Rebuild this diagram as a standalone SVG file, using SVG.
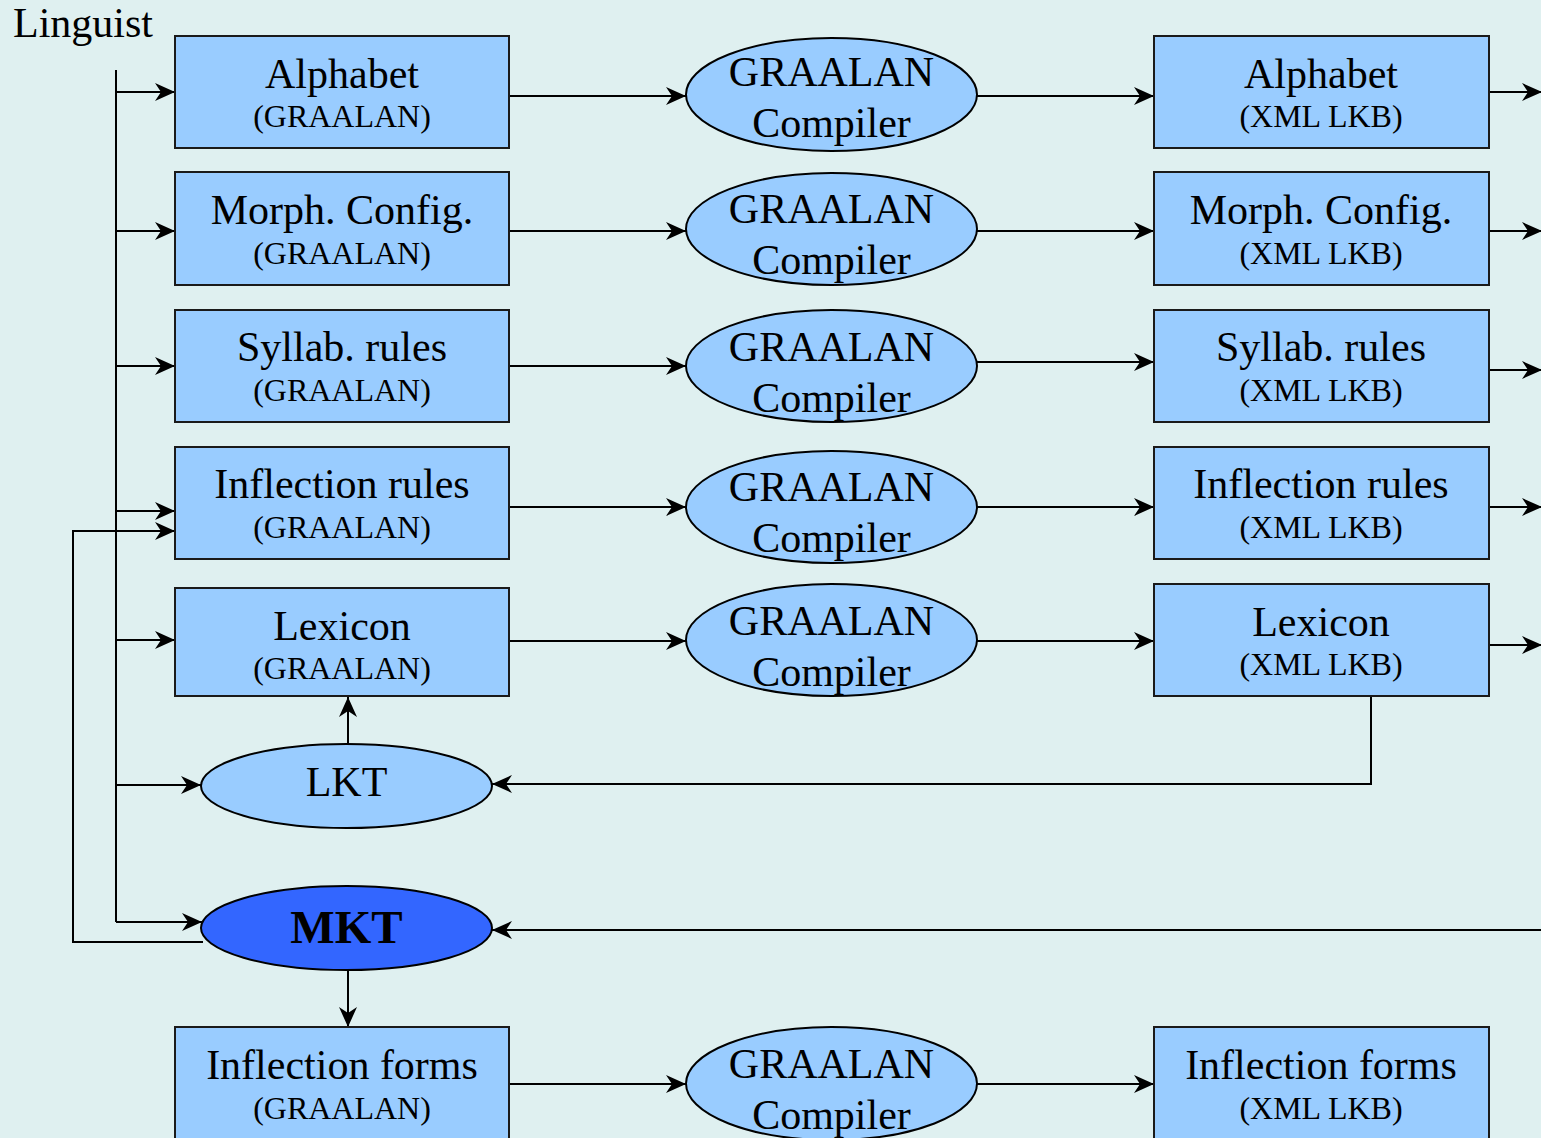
<svg xmlns="http://www.w3.org/2000/svg" width="1541" height="1138" viewBox="0 0 1541 1138">
  <defs>
    <marker id="arrow" markerUnits="userSpaceOnUse" markerWidth="22" markerHeight="20" refX="20" refY="9" orient="auto">
      <path d="M0,0 L20,9 L0,18 L6,9 z" fill="#000"/>
    </marker>
    <style>
      .box { fill: #99ccff; stroke: #1a1a1a; stroke-width: 2; }
      .ell { fill: #99ccff; stroke: #000; stroke-width: 2; }
      .mkt { fill: #3366ff; stroke: #000; stroke-width: 2; }
      .big { font-family: "Liberation Serif", "Times New Roman", serif; font-size: 42px; fill: #000; text-anchor: middle; }
      .small { font-family: "Liberation Serif", "Times New Roman", serif; font-size: 32px; fill: #000; text-anchor: middle; }
      .bold { font-family: "Liberation Serif", "Times New Roman", serif; font-size: 47px; font-weight: bold; fill: #000; text-anchor: middle; }
      .wire { fill: none; stroke: #000; stroke-width: 2; }
      .wire.arr { marker-end: url(#arrow); }
    </style>
  </defs>

  <rect x="0" y="0" width="1541" height="1138" fill="#dff0f0"/>

  <text x="13" y="37" font-family="Liberation Serif, Times New Roman, serif" font-size="42" fill="#000">Linguist</text>

  <!-- connectors -->
  <g id="connectors">
    <!-- linguist feed line -->
    <path class="wire" d="M116,70 V922"/>
    <path class="wire arr" d="M116,92 H175"/>
    <path class="wire arr" d="M116,231 H175"/>
    <path class="wire arr" d="M116,366 H175"/>
    <path class="wire arr" d="M116,511 H175"/>
    <path class="wire arr" d="M116,640 H175"/>
    <path class="wire arr" d="M116,785 H201"/>
    <path class="wire arr" d="M116,922 H202"/>
    <!-- MKT back to inflection rules -->
    <path class="wire arr" d="M203,942 H73 V531 H175"/>

    <!-- source to compiler -->
    <path class="wire arr" d="M509,96 H686"/>
    <path class="wire arr" d="M509,231 H686"/>
    <path class="wire arr" d="M509,366 H686"/>
    <path class="wire arr" d="M509,507 H686"/>
    <path class="wire arr" d="M509,641 H686"/>
    <path class="wire arr" d="M509,1084 H686"/>

    <!-- compiler to XML -->
    <path class="wire arr" d="M977,96 H1154"/>
    <path class="wire arr" d="M977,231 H1154"/>
    <path class="wire arr" d="M977,362 H1154"/>
    <path class="wire arr" d="M977,507 H1154"/>
    <path class="wire arr" d="M977,641 H1154"/>
    <path class="wire arr" d="M977,1084 H1154"/>

    <!-- XML outputs -->
    <path class="wire arr" d="M1489,92 H1542"/>
    <path class="wire arr" d="M1489,231 H1542"/>
    <path class="wire arr" d="M1489,370 H1542"/>
    <path class="wire arr" d="M1489,507 H1542"/>
    <path class="wire arr" d="M1489,645 H1542"/>

    <!-- LKT loop -->
    <path class="wire arr" d="M348,744 V697"/>
    <path class="wire arr" d="M1371,696 V784 H492"/>

    <!-- MKT -->
    <path class="wire arr" d="M1545,930 H492"/>
    <path class="wire arr" d="M348,970 V1027"/>
  </g>

  <!-- GRAALAN sources -->
  <g id="src-alphabet">
    <rect class="box" x="175" y="36" width="334" height="112"/>
    <text class="big" x="342" y="88">Alphabet</text>
    <text class="small" x="342" y="127">(GRAALAN)</text>
  </g>
  <g id="src-morph">
    <rect class="box" x="175" y="172" width="334" height="113"/>
    <text class="big" x="342" y="224">Morph. Config.</text>
    <text class="small" x="342" y="264">(GRAALAN)</text>
  </g>
  <g id="src-syllab">
    <rect class="box" x="175" y="310" width="334" height="112"/>
    <text class="big" x="342" y="361">Syllab. rules</text>
    <text class="small" x="342" y="401">(GRAALAN)</text>
  </g>
  <g id="src-inflection">
    <rect class="box" x="175" y="447" width="334" height="112"/>
    <text class="big" x="342" y="498">Inflection rules</text>
    <text class="small" x="342" y="538">(GRAALAN)</text>
  </g>
  <g id="src-lexicon">
    <rect class="box" x="175" y="588" width="334" height="108"/>
    <text class="big" x="342" y="640">Lexicon</text>
    <text class="small" x="342" y="679">(GRAALAN)</text>
  </g>
  <g id="src-forms">
    <rect class="box" x="175" y="1027" width="334" height="120"/>
    <text class="big" x="342" y="1079">Inflection forms</text>
    <text class="small" x="342" y="1119">(GRAALAN)</text>
  </g>

  <!-- compilers -->
  <g id="comp-1">
    <ellipse class="ell" cx="831.5" cy="94.5" rx="145.5" ry="56.5"/>
    <text class="big" x="831.5" y="86">GRAALAN</text>
    <text class="big" x="831.5" y="137">Compiler</text>
  </g>
  <g id="comp-2">
    <ellipse class="ell" cx="831.5" cy="229" rx="145.5" ry="56"/>
    <text class="big" x="831.5" y="223">GRAALAN</text>
    <text class="big" x="831.5" y="274">Compiler</text>
  </g>
  <g id="comp-3">
    <ellipse class="ell" cx="831.5" cy="366" rx="145.5" ry="56"/>
    <text class="big" x="831.5" y="361">GRAALAN</text>
    <text class="big" x="831.5" y="412">Compiler</text>
  </g>
  <g id="comp-4">
    <ellipse class="ell" cx="831.5" cy="507" rx="145.5" ry="56"/>
    <text class="big" x="831.5" y="501">GRAALAN</text>
    <text class="big" x="831.5" y="552">Compiler</text>
  </g>
  <g id="comp-5">
    <ellipse class="ell" cx="831.5" cy="640" rx="145.5" ry="56"/>
    <text class="big" x="831.5" y="635">GRAALAN</text>
    <text class="big" x="831.5" y="686">Compiler</text>
  </g>
  <g id="comp-6">
    <ellipse class="ell" cx="831.5" cy="1083.5" rx="145.5" ry="56.5"/>
    <text class="big" x="831.5" y="1078">GRAALAN</text>
    <text class="big" x="831.5" y="1129">Compiler</text>
  </g>

  <!-- XML LKB outputs -->
  <g id="xml-alphabet">
    <rect class="box" x="1154" y="36" width="335" height="112"/>
    <text class="big" x="1321" y="88">Alphabet</text>
    <text class="small" x="1321" y="127">(XML LKB)</text>
  </g>
  <g id="xml-morph">
    <rect class="box" x="1154" y="172" width="335" height="113"/>
    <text class="big" x="1321" y="224">Morph. Config.</text>
    <text class="small" x="1321" y="264">(XML LKB)</text>
  </g>
  <g id="xml-syllab">
    <rect class="box" x="1154" y="310" width="335" height="112"/>
    <text class="big" x="1321" y="361">Syllab. rules</text>
    <text class="small" x="1321" y="401">(XML LKB)</text>
  </g>
  <g id="xml-inflection">
    <rect class="box" x="1154" y="447" width="335" height="112"/>
    <text class="big" x="1321" y="498">Inflection rules</text>
    <text class="small" x="1321" y="538">(XML LKB)</text>
  </g>
  <g id="xml-lexicon">
    <rect class="box" x="1154" y="584" width="335" height="112"/>
    <text class="big" x="1321" y="636">Lexicon</text>
    <text class="small" x="1321" y="675">(XML LKB)</text>
  </g>
  <g id="xml-forms">
    <rect class="box" x="1154" y="1027" width="335" height="120"/>
    <text class="big" x="1321" y="1079">Inflection forms</text>
    <text class="small" x="1321" y="1119">(XML LKB)</text>
  </g>

  <!-- tools -->
  <g id="lkt">
    <ellipse class="ell" cx="346.5" cy="786" rx="145.5" ry="42"/>
    <text class="big" x="346.5" y="796">LKT</text>
  </g>
  <g id="mkt">
    <ellipse class="mkt" cx="346.5" cy="928" rx="145.5" ry="42"/>
    <text class="bold" x="346.5" y="943">MKT</text>
  </g>
</svg>
